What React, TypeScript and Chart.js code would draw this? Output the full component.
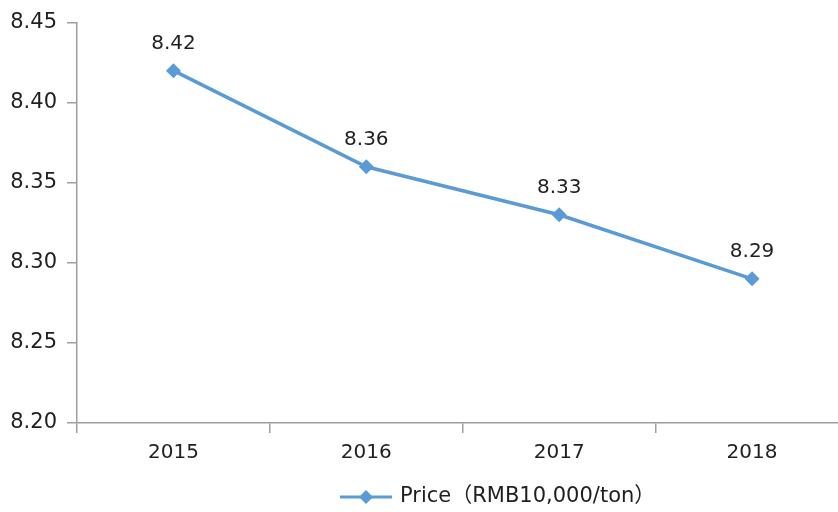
import React, { useEffect, useRef } from "react";
import { Chart, registerables } from "chart.js";

Chart.register(...registerables);

const years = ["2015", "2016", "2017", "2018"];
const prices = [8.42, 8.36, 8.33, 8.29];
const seriesLabel = "Price（RMB10,000/ton）";
const yMin = 8.2;
const yMax = 8.45;
const yStep = 0.05;

const FONT = '"DejaVu Sans", "Noto Sans CJK SC", sans-serif';
const TEXT = "#1F1F1F";
const AXIS = "#9E9E9E";
const BLUE = "#5B9BD5";

const labelsPlugin = {
  id: "valueLabels",
  afterDatasetsDraw(chart: any) {
    const ctx = chart.ctx;
    const meta = chart.getDatasetMeta(0);
    const data = chart.data.datasets[0].data as number[];
    ctx.save();
    ctx.font = `20px ${FONT}`;
    ctx.fillStyle = TEXT;
    ctx.textAlign = "center";
    ctx.textBaseline = "middle";
    meta.data.forEach((pt: any, i: number) => {
      ctx.fillText(data[i].toFixed(2), pt.x, pt.y - 27);
    });
    ctx.restore();
  },
};

const legendPlugin = {
  id: "customLegend",
  afterDraw(chart: any) {
    const ctx = chart.ctx;
    const y = 497;
    const x0 = 340;
    ctx.save();
    ctx.strokeStyle = BLUE;
    ctx.lineWidth = 3;
    ctx.beginPath();
    ctx.moveTo(x0, y);
    ctx.lineTo(x0 + 52, y);
    ctx.stroke();
    ctx.fillStyle = BLUE;
    ctx.beginPath();
    ctx.moveTo(x0 + 26, y - 7);
    ctx.lineTo(x0 + 33, y);
    ctx.lineTo(x0 + 26, y + 7);
    ctx.lineTo(x0 + 19, y);
    ctx.closePath();
    ctx.fill();
    ctx.font = `21px ${FONT}`;
    ctx.fillStyle = TEXT;
    ctx.textAlign = "left";
    ctx.textBaseline = "middle";
    ctx.fillText(chart.data.datasets[0].label, x0 + 60, y);
    ctx.restore();
  },
};

export default function App() {
  const ref = useRef<HTMLCanvasElement>(null);
  useEffect(() => {
    if (!ref.current) return;
    const chart = new Chart(ref.current, {
      type: "line",
      data: {
        labels: years,
        datasets: [
          {
            label: seriesLabel,
            data: prices,
            borderColor: BLUE,
            backgroundColor: BLUE,
            borderWidth: 3.5,
            pointStyle: "rectRot",
            pointRadius: 7.5,
            pointBorderWidth: 0,
            pointBackgroundColor: BLUE,
            tension: 0,
          },
        ],
      },
      options: {
        responsive: true,
        maintainAspectRatio: false,
        animation: false,
        layout: { padding: { left: 0, top: 22, right: 6, bottom: 49 } },
        plugins: {
          legend: { display: false },
          tooltip: { enabled: false },
        },
        scales: {
          x: {
            offset: true,
            afterFit: (s: any) => {
              s.height = 40;
            },
            grid: {
              offset: true,
              drawOnChartArea: false,
              drawTicks: true,
              tickLength: 10,
              color: AXIS,
              lineWidth: 1.5,
            },
            border: { display: true, color: AXIS, width: 1.5 },
            ticks: {
              font: { family: FONT, size: 20 },
              color: TEXT,
              padding: 8,
              maxRotation: 0,
            },
          },
          y: {
            min: yMin,
            max: yMax,
            afterFit: (s: any) => {
              s.width = 77;
            },
            grid: {
              drawOnChartArea: false,
              drawTicks: true,
              tickLength: 10,
              color: AXIS,
              lineWidth: 1.5,
            },
            border: { display: true, color: AXIS, width: 1.5 },
            ticks: {
              stepSize: yStep,
              font: { family: FONT, size: 21 },
              color: TEXT,
              padding: 10,
              callback: (v: any) => Number(v).toFixed(2),
            },
          },
        },
      },
      plugins: [labelsPlugin, legendPlugin],
    });
    return () => chart.destroy();
  }, []);

  return (
    <div
      style={{
        position: "fixed",
        left: 0,
        top: 0,
        width: 838,
        height: 512,
        overflow: "hidden",
        background: "#fff",
      }}
    >
      <div style={{ position: "relative", width: 856, height: 512 }}>
        <canvas ref={ref} />
      </div>
    </div>
  );
}
